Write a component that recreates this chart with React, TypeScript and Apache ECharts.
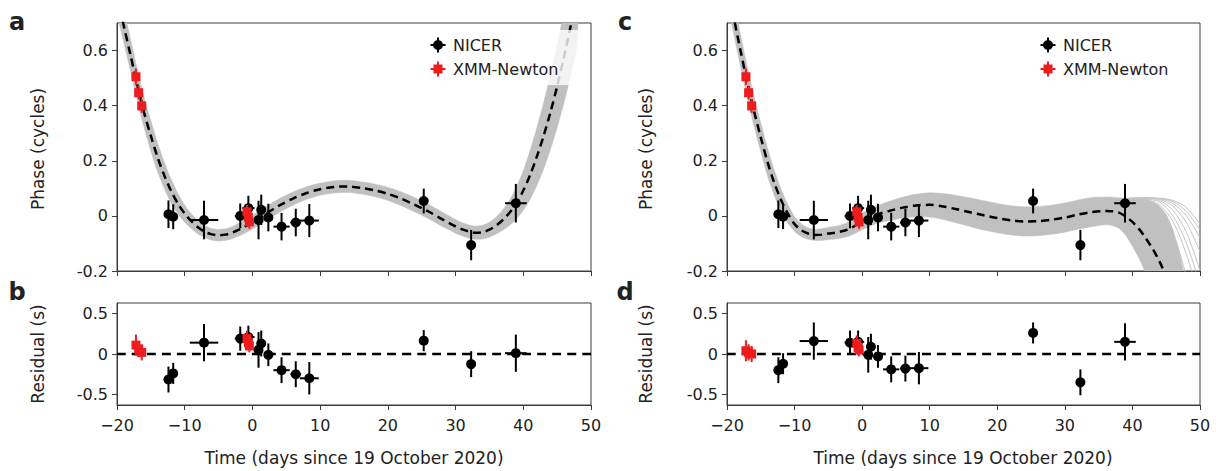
import React, { useEffect, useRef } from "react";
import * as echarts from "echarts";

// ---------- tick labels ----------
const xTicks = [-20, -10, 0, 10, 20, 30, 40, 50];
const phaseTicks = [-0.2, 0, 0.2, 0.4, 0.6];
const residTicks = [-0.5, 0, 0.5];

// ---------- panel a : timing model (dashed) and its uncertainty band ----------
const aDays = [-20, -19, -18, -17, -16, -15, -14, -13, -12, -11, -10, -9, -8, -7, -6, -5, -4, -3, -2, -1, 0, 2, 4, 6, 8, 10, 12, 14, 16, 18, 20, 22, 24, 26, 28, 30, 31, 32, 33, 34, 35, 36, 37, 38, 39, 40, 41, 42, 43, 44, 45, 46, 47, 48];
const aModel = [0.8, 0.69, 0.583, 0.475, 0.375, 0.29, 0.212, 0.146, 0.09, 0.044, 0.008, -0.02, -0.042, -0.058, -0.067, -0.07, -0.068, -0.061, -0.05, -0.037, -0.023, 0.008, 0.038, 0.063, 0.083, 0.097, 0.105, 0.107, 0.102, 0.093, 0.08, 0.062, 0.04, 0.016, -0.012, -0.038, -0.049, -0.057, -0.061, -0.059, -0.05, -0.035, -0.014, 0.012, 0.047, 0.092, 0.148, 0.215, 0.29, 0.375, 0.47, 0.575, 0.69, 0.82];
const aBandLo = [0.74, 0.63, 0.525, 0.419, 0.32, 0.235, 0.16, 0.098, 0.047, 0.007, -0.023, -0.047, -0.066, -0.08, -0.088, -0.091, -0.089, -0.083, -0.073, -0.061, -0.048, -0.017, 0.013, 0.039, 0.06, 0.075, 0.083, 0.085, 0.08, 0.07, 0.056, 0.037, 0.014, -0.01, -0.038, -0.063, -0.073, -0.081, -0.085, -0.084, -0.077, -0.066, -0.051, -0.034, -0.011, 0.02, 0.06, 0.11, 0.17, 0.24, 0.32, 0.41, 0.51, 0.63];
const aBandHi = [0.86, 0.75, 0.641, 0.531, 0.43, 0.345, 0.264, 0.194, 0.133, 0.081, 0.039, 0.007, -0.018, -0.036, -0.046, -0.049, -0.047, -0.039, -0.027, -0.013, 0.002, 0.033, 0.063, 0.087, 0.106, 0.119, 0.127, 0.129, 0.124, 0.116, 0.104, 0.087, 0.066, 0.042, 0.014, -0.013, -0.025, -0.033, -0.037, -0.034, -0.023, -0.004, 0.023, 0.058, 0.105, 0.164, 0.236, 0.32, 0.41, 0.51, 0.62, 0.74, 0.87, 1.01];

// ---------- panel c : timing model, band and fan of trial solutions ----------
const cDays = [-20, -19, -18, -17, -16, -15, -14, -13, -12, -11, -10, -9, -8, -7, -6, -5, -4, -3, -2, -1, 0, 2, 4, 6, 8, 10, 12, 14, 16, 18, 20, 22, 24, 26, 28, 30, 32, 34, 36, 37, 38, 39, 40, 41, 42, 43, 44, 45, 46, 47, 48];
const cModel = [0.84, 0.72, 0.6, 0.485, 0.38, 0.285, 0.195, 0.12, 0.058, 0.008, -0.03, -0.052, -0.064, -0.069, -0.068, -0.064, -0.061, -0.056, -0.048, -0.035, -0.02, 0.003, 0.018, 0.03, 0.038, 0.04, 0.034, 0.024, 0.013, 0.002, -0.008, -0.016, -0.02, -0.019, -0.014, -0.006, 0.005, 0.014, 0.018, 0.017, 0.012, -0.002, -0.022, -0.048, -0.082, -0.12, -0.165, -0.22, -0.28, -0.34, -0.4];
const cBandLo = [0.78, 0.66, 0.542, 0.429, 0.326, 0.233, 0.145, 0.074, 0.018, -0.025, -0.057, -0.075, -0.085, -0.089, -0.089, -0.086, -0.084, -0.08, -0.074, -0.063, -0.05, -0.029, -0.017, -0.008, -0.003, -0.004, -0.013, -0.026, -0.039, -0.051, -0.061, -0.069, -0.073, -0.072, -0.067, -0.059, -0.048, -0.039, -0.032, -0.035, -0.045, -0.07, -0.11, -0.155, -0.21, -0.27, -0.33, -0.4, -0.45, -0.5, -0.55];
const cBandHi = [0.9, 0.78, 0.658, 0.541, 0.434, 0.337, 0.245, 0.166, 0.098, 0.041, -0.003, -0.029, -0.043, -0.049, -0.047, -0.042, -0.038, -0.032, -0.022, -0.007, 0.01, 0.035, 0.053, 0.068, 0.079, 0.084, 0.081, 0.074, 0.065, 0.055, 0.045, 0.037, 0.033, 0.034, 0.039, 0.047, 0.058, 0.067, 0.068, 0.068, 0.066, 0.065, 0.064, 0.063, 0.06, 0.05, 0.035, 0.005, -0.05, -0.14, -0.26];
const cFanDays = [38, 40, 42, 44, 46, 48, 50];
const cFanLines = [
  [0.06, 0.064, 0.062, 0.05, 0.0, -0.1, -0.25],
  [0.06, 0.064, 0.064, 0.056, 0.02, -0.06, -0.2],
  [0.06, 0.064, 0.065, 0.06, 0.035, -0.025, -0.13],
  [0.06, 0.063, 0.065, 0.062, 0.045, 0.0, -0.08],
  [0.06, 0.063, 0.065, 0.063, 0.052, 0.015, -0.05],
  [0.06, 0.062, 0.064, 0.064, 0.056, 0.03, -0.03],
  [0.06, 0.064, 0.06, 0.04, -0.02, -0.14, -0.3],
  [0.06, 0.06, 0.05, 0.02, -0.06, -0.22, -0.4],
];

// ---------- NICER observations ----------
const nicerDays = [-12.4, -11.7, -7.15, -1.8, -0.6, 0.9, 1.3, 2.35, 4.3, 6.4, 8.4, 25.3, 32.3, 38.9];
const nicerDaysErr = [0.3, 0.3, 2.1, 0.8, 0.9, 0.3, 0.5, 0.4, 1.2, 0.8, 1.4, 0.3, 0.3, 1.6];
const nicerPhase = [0.006, -0.003, -0.015, 0.0, 0.028, -0.015, 0.022, -0.006, -0.039, -0.024, -0.017, 0.054, -0.106, 0.046];
const nicerPhaseErr = [0.05, 0.045, 0.07, 0.045, 0.045, 0.07, 0.055, 0.05, 0.05, 0.05, 0.06, 0.045, 0.055, 0.07];
const nicerResidA = [-0.315, -0.24, 0.14, 0.19, 0.21, 0.05, 0.13, -0.01, -0.2, -0.25, -0.3, 0.165, -0.125, 0.01];
const nicerResidC = [-0.2, -0.12, 0.16, 0.14, 0.15, -0.01, 0.09, -0.03, -0.19, -0.18, -0.175, 0.26, -0.35, 0.15];
const nicerResidErr = [0.16, 0.13, 0.23, 0.15, 0.14, 0.22, 0.16, 0.14, 0.16, 0.16, 0.2, 0.13, 0.16, 0.23];

// ---------- XMM-Newton observations ----------
const xmmDays = [-17.2, -16.8, -16.35, -0.8, -0.6, -0.45];
const xmmDaysErr = [0.15, 0.15, 0.15, 0.15, 0.15, 0.15];
const xmmPhase = [0.505, 0.447, 0.399, 0.015, -0.005, -0.022];
const xmmPhaseErr = [0.03, 0.025, 0.025, 0.025, 0.025, 0.025];
const xmmResidA = [0.11, 0.06, 0.02, 0.19, 0.14, 0.1];
const xmmResidC = [0.04, 0.02, 0.0, 0.13, 0.08, 0.05];
const xmmResidErr = [0.13, 0.1, 0.1, 0.1, 0.09, 0.08];

const FONT = '"DejaVu Sans", sans-serif';
const AXIS_COLOR = "#3c3c3c";
const TEXT_COLOR = "#222222";
const BAND_COLOR = "#c0c0c0";
const RED = "#ee1c1c";

const fmtX = (v: number) => (v < 0 ? "\u2212" + Math.abs(v) : String(v));
const fmtY = (v: number) => (v === 0 ? "0" : v.toFixed(1));

function xAxis(gi: number, labels: boolean) {
  return {
    type: "value",
    gridIndex: gi,
    min: -20,
    max: 50,
    axisLine: { show: true, onZero: false, lineStyle: { color: AXIS_COLOR, width: 1 } },
    axisTick: { show: true, inside: false, length: 5, customValues: xTicks, lineStyle: { color: AXIS_COLOR, width: 1 } },
    axisLabel: { show: labels, customValues: xTicks, formatter: fmtX, color: TEXT_COLOR, fontSize: 16, fontFamily: FONT, margin: 12 },
    splitLine: { show: false },
  };
}

function yAxis(gi: number, min: number, max: number, ticks: number[]) {
  return {
    type: "value",
    gridIndex: gi,
    min,
    max,
    axisLine: { show: true, onZero: false, lineStyle: { color: AXIS_COLOR, width: 1 } },
    axisTick: { show: true, inside: false, length: 5, customValues: ticks, lineStyle: { color: AXIS_COLOR, width: 1 } },
    axisLabel: { show: true, customValues: ticks, formatter: fmtY, color: TEXT_COLOR, fontSize: 16, fontFamily: FONT, margin: 9 },
    splitLine: { show: false },
  };
}

function bandSeries(ai: number, days: number[], lo: number[], hi: number[]) {
  return {
    type: "custom",
    xAxisIndex: ai,
    yAxisIndex: ai,
    z: 1,
    clip: true,
    silent: true,
    data: [[0, 0]],
    renderItem: (_p: any, api: any) => {
      const pts: number[][] = [];
      for (let i = 0; i < days.length; i++) pts.push(api.coord([days[i], hi[i]]));
      for (let i = days.length - 1; i >= 0; i--) pts.push(api.coord([days[i], lo[i]]));
      return { type: "polygon", shape: { points: pts, smooth: 0.2 }, style: { fill: BAND_COLOR, stroke: BAND_COLOR, lineWidth: 0.5 } };
    },
  };
}

function lineSeries(ai: number, days: number[], vals: number[], style: any, z: number) {
  return {
    type: "line",
    xAxisIndex: ai,
    yAxisIndex: ai,
    data: days.map((d, i) => [d, vals[i]]),
    showSymbol: false,
    symbol: "none",
    smooth: 0.3,
    clip: true,
    silent: true,
    z,
    lineStyle: style,
  };
}

function errSeries(ai: number, days: number[], dErr: number[], vals: number[], vErr: number[], color: string, z: number) {
  return {
    type: "custom",
    xAxisIndex: ai,
    yAxisIndex: ai,
    z,
    clip: true,
    silent: true,
    encode: { x: 0, y: 1 },
    data: days.map((d, i) => [d, vals[i], dErr[i], vErr[i]]),
    renderItem: (_p: any, api: any) => {
      const t = api.value(0);
      const v = api.value(1);
      const te = api.value(2);
      const ve = api.value(3);
      const l = api.coord([t - te, v]);
      const r = api.coord([t + te, v]);
      const b = api.coord([t, v - ve]);
      const u = api.coord([t, v + ve]);
      return {
        type: "group",
        children: [
          { type: "line", shape: { x1: l[0], y1: l[1], x2: r[0], y2: r[1] }, style: { stroke: color, lineWidth: 2 } },
          { type: "line", shape: { x1: b[0], y1: b[1], x2: u[0], y2: u[1] }, style: { stroke: color, lineWidth: 2 } },
        ],
      };
    },
  };
}

function scatterSeries(ai: number, days: number[], vals: number[], symbol: string, size: number, color: string, z: number) {
  return {
    type: "scatter",
    xAxisIndex: ai,
    yAxisIndex: ai,
    data: days.map((d, i) => [d, vals[i]]),
    symbol,
    symbolSize: size,
    itemStyle: { color, opacity: 1 },
    clip: true,
    silent: true,
    z,
  };
}

function pointSet(ai: number, nVals: number[], nErr: number[], xVals: number[], xErr: number[]) {
  return [
    errSeries(ai, nicerDays, nicerDaysErr, nVals, nErr, "#000", 5),
    scatterSeries(ai, nicerDays, nVals, "circle", 10, "#000", 6),
    errSeries(ai, xmmDays, xmmDaysErr, xVals, xErr, RED, 7),
    scatterSeries(ai, xmmDays, xVals, "rect", 9, RED, 8),
  ];
}

const dashedModel = { color: "#000", width: 2.5, type: [8, 5] };
const dashedZero = { color: "#000", width: 2.5, type: [9, 6] };

function legendGraphics(x: number, y1: number, y2: number) {
  const arm = 7.5;
  const txt = (t: string, y: number) => ({
    type: "text",
    x: x + 15,
    y,
    z: 102,
    style: { text: t, font: `16px ${FONT}`, fill: TEXT_COLOR, align: "left", textAlign: "left", verticalAlign: "middle", textVerticalAlign: "middle" },
  });
  return [
    { type: "line", z: 101, shape: { x1: x - arm, y1, x2: x + arm, y2: y1 }, style: { stroke: "#000", lineWidth: 2 } },
    { type: "line", z: 101, shape: { x1: x, y1: y1 - arm, x2: x, y2: y1 + arm }, style: { stroke: "#000", lineWidth: 2 } },
    { type: "circle", z: 102, shape: { cx: x, cy: y1, r: 5 }, style: { fill: "#000" } },
    txt("NICER", y1),
    { type: "line", z: 101, shape: { x1: x - arm, y1: y2, x2: x + arm, y2 }, style: { stroke: RED, lineWidth: 2 } },
    { type: "line", z: 101, shape: { x1: x, y1: y2 - arm, x2: x, y2: y2 + arm }, style: { stroke: RED, lineWidth: 2 } },
    { type: "rect", z: 102, shape: { x: x - 4.5, y: y2 - 4.5, width: 9, height: 9 }, style: { fill: RED } },
    txt("XMM-Newton", y2),
  ];
}

function textEl(t: string, x: number, y: number, font: string, rot = 0) {
  return {
    type: "text",
    x,
    y,
    rotation: rot,
    z: 110,
    style: { text: t, font, fill: TEXT_COLOR, align: "center", textAlign: "center", verticalAlign: "middle", textVerticalAlign: "middle" },
  };
}

export default function App() {
  const ref = useRef<HTMLDivElement>(null);

  useEffect(() => {
    if (!ref.current) return;
    const chart = echarts.init(ref.current, undefined, { renderer: "svg" });
    const gridBase = { show: true, borderColor: AXIS_COLOR, borderWidth: 1, backgroundColor: "transparent", containLabel: false, outerBoundsMode: "none" };

    const series: any[] = [
      // panel a
      bandSeries(0, aDays, aBandLo, aBandHi),
      lineSeries(0, aDays, aModel, dashedModel, 3),
      ...pointSet(0, nicerPhase, nicerPhaseErr, xmmPhase, xmmPhaseErr),
      // panel b
      lineSeries(1, [-20, 50], [0, 0], dashedZero, 3),
      ...pointSet(1, nicerResidA, nicerResidErr, xmmResidA, xmmResidErr),
      // panel c
      bandSeries(2, cDays, cBandLo, cBandHi),
      ...cFanLines.map((vals) => lineSeries(2, cFanDays, vals, { color: "#c4c4c4", width: 1 }, 2)),
      lineSeries(2, cDays, cModel, dashedModel, 3),
      ...pointSet(2, nicerPhase, nicerPhaseErr, xmmPhase, xmmPhaseErr),
      // panel d
      lineSeries(3, [-20, 50], [0, 0], dashedZero, 3),
      ...pointSet(3, nicerResidC, nicerResidErr, xmmResidC, xmmResidErr),
    ];

    const titleFont = `17px ${FONT}`;
    const letterFont = `bold 24px ${FONT}`;

    const option: any = {
      animation: false,
      backgroundColor: "#ffffff",
      grid: [
        { ...gridBase, left: 117, top: 23, width: 474, height: 248 },
        { ...gridBase, left: 117, top: 303, width: 474, height: 102 },
        { ...gridBase, left: 727, top: 23, width: 473, height: 248 },
        { ...gridBase, left: 727, top: 303, width: 473, height: 102 },
      ],
      xAxis: [xAxis(0, false), xAxis(1, true), xAxis(2, false), xAxis(3, true)],
      yAxis: [
        yAxis(0, -0.2, 0.7, phaseTicks),
        yAxis(1, -0.63, 0.63, residTicks),
        yAxis(2, -0.2, 0.7, phaseTicks),
        yAxis(3, -0.63, 0.63, residTicks),
      ],
      series,
      graphic: {
        elements: [
          // semi-transparent legend frame of panel a (lightens the band beneath it)
          { type: "rect", z: 100, shape: { x: 425, y: 30, width: 158, height: 55 }, style: { fill: "rgba(255,255,255,0.8)" } },
          ...legendGraphics(438, 45, 69),
          ...legendGraphics(1048, 45, 69),
          textEl("a", 17, 22, letterFont),
          textEl("b", 17, 292, letterFont),
          textEl("c", 625, 22, letterFont),
          textEl("d", 625, 292, letterFont),
          textEl("Phase (cycles)", 38, 149, titleFont, Math.PI / 2),
          textEl("Residual (s)", 38, 354, titleFont, Math.PI / 2),
          textEl("Phase (cycles)", 646, 149, titleFont, Math.PI / 2),
          textEl("Residual (s)", 646, 354, titleFont, Math.PI / 2),
          textEl("Time (days since 19 October 2020)", 354, 458, titleFont),
          textEl("Time (days since 19 October 2020)", 963, 458, titleFont),
        ],
      },
    };
    chart.setOption(option);
    return () => chart.dispose();
  }, []);

  return (
    <div
      ref={ref}
      style={{ position: "fixed", left: 0, top: 0, width: 1216, height: 471, background: "#fff" }}
    />
  );
}
